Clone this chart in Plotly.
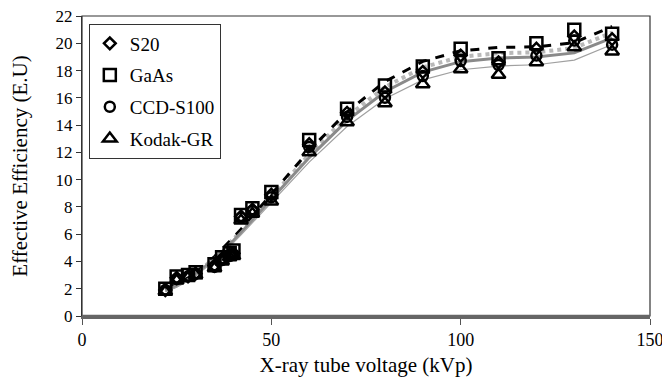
import numpy as np
import plotly.graph_objects as go

kvp = [22, 25, 28, 30, 35, 37, 39, 40, 42, 45, 50, 60, 70, 80, 90, 100, 110, 120, 130, 140]
s20 = [1.9, 2.8, 2.9, 3.1, 3.7, 4.2, 4.5, 4.6, 7.3, 7.8, 8.9, 12.6, 14.9, 16.4, 17.9, 19.1, 18.6, 19.6, 20.5, 20.3]
gaas = [2.0, 2.9, 3.0, 3.2, 3.8, 4.3, 4.6, 4.8, 7.4, 7.9, 9.1, 12.9, 15.2, 16.9, 18.3, 19.6, 18.9, 20.0, 21.0, 20.7]
ccd = [1.9, 2.7, 2.9, 3.1, 3.6, 4.1, 4.4, 4.5, 7.2, 7.7, 8.7, 12.4, 14.6, 16.0, 17.6, 18.7, 18.4, 19.1, 20.2, 19.9]
kodak = [1.8, 2.6, 2.8, 3.0, 3.5, 4.0, 4.3, 4.4, 7.0, 7.5, 8.4, 12.0, 14.2, 15.6, 17.0, 18.1, 17.7, 18.6, 19.7, 19.4]

names = ["S20", "GaAs", "CCD-S100", "Kodak-GR"]
series = [s20, gaas, ccd, kodak]
symbols = ["diamond-open", "square-open", "circle-open", "triangle-up-open"]
sizes = [9, 12, 10, 12]
line_styles = [
    dict(color="#b8b8b8", width=4, dash="dot"),
    dict(color="black", width=3, dash="dash"),
    dict(color="#8a8a8a", width=3, dash="solid"),
    dict(color="#a0a0a0", width=1.2, dash="solid"),
]

FONT = "Liberation Serif"
fig = go.Figure()

# polynomial trend lines fitted to each series
xs = np.array(kvp, dtype=float)
for name, ys, ls in zip(names, series, line_styles):
    coef = np.polyfit(xs, np.array(ys, dtype=float), 4)
    fig.add_trace(go.Scatter(x=kvp, y=np.polyval(coef, xs), mode="lines", line=ls,
                             showlegend=False, hoverinfo="skip"))

for name, ys, sym, sz in zip(names, series, symbols, sizes):
    fig.add_trace(go.Scatter(x=kvp, y=ys, mode="markers", name=name, legendgroup=name,
                             marker=dict(symbol=sym, size=sz, color="black",
                                         line=dict(color="black", width=2.5))))

fig.update_layout(
    width=662, height=376,
    margin=dict(l=74, r=20, t=8, b=68),
    paper_bgcolor="white", plot_bgcolor="white",
    font=dict(family=FONT, size=17, color="black"),
    showlegend=True,
    legend=dict(x=0.012, y=0.975, xanchor="left", yanchor="top",
                bordercolor="#333", borderwidth=1, bgcolor="white",
                font=dict(family=FONT, size=19), tracegroupgap=4,
                traceorder="grouped", itemwidth=30),
    xaxis=dict(range=[0, 150], tickvals=[0, 50, 100, 150], ticks="outside", ticklen=6,
               tickcolor="#555", showgrid=False, zeroline=False, automargin=False,
               ticklabeloverflow="allow",
               showline=True, linecolor="#666", linewidth=2.5,
               title=dict(text="X-ray tube voltage (kVp)", font=dict(family=FONT, size=21), standoff=8),
               tickfont=dict(family=FONT, size=18)),
    yaxis=dict(range=[0, 22], tickvals=list(range(0, 23, 2)), ticks="outside", ticklen=5,
               tickcolor="#333", showgrid=False, zeroline=False, automargin=False,
               ticklabeloverflow="allow",
               showline=True, linecolor="#333", linewidth=1.2,
               title=dict(text="Effective Efficiency (E.U)", font=dict(family=FONT, size=21), standoff=22),
               tickfont=dict(family=FONT, size=17)),
)
fig.add_shape(type="rect", xref="paper", yref="paper", x0=0, y0=0, x1=1, y1=1,
              line=dict(color="#333", width=1.2), layer="above")
fig.add_shape(type="line", xref="paper", yref="paper", x0=0, y0=0, x1=1, y1=0,
              line=dict(color="#666", width=2.5), layer="above")

fig.write_html("out.html")
